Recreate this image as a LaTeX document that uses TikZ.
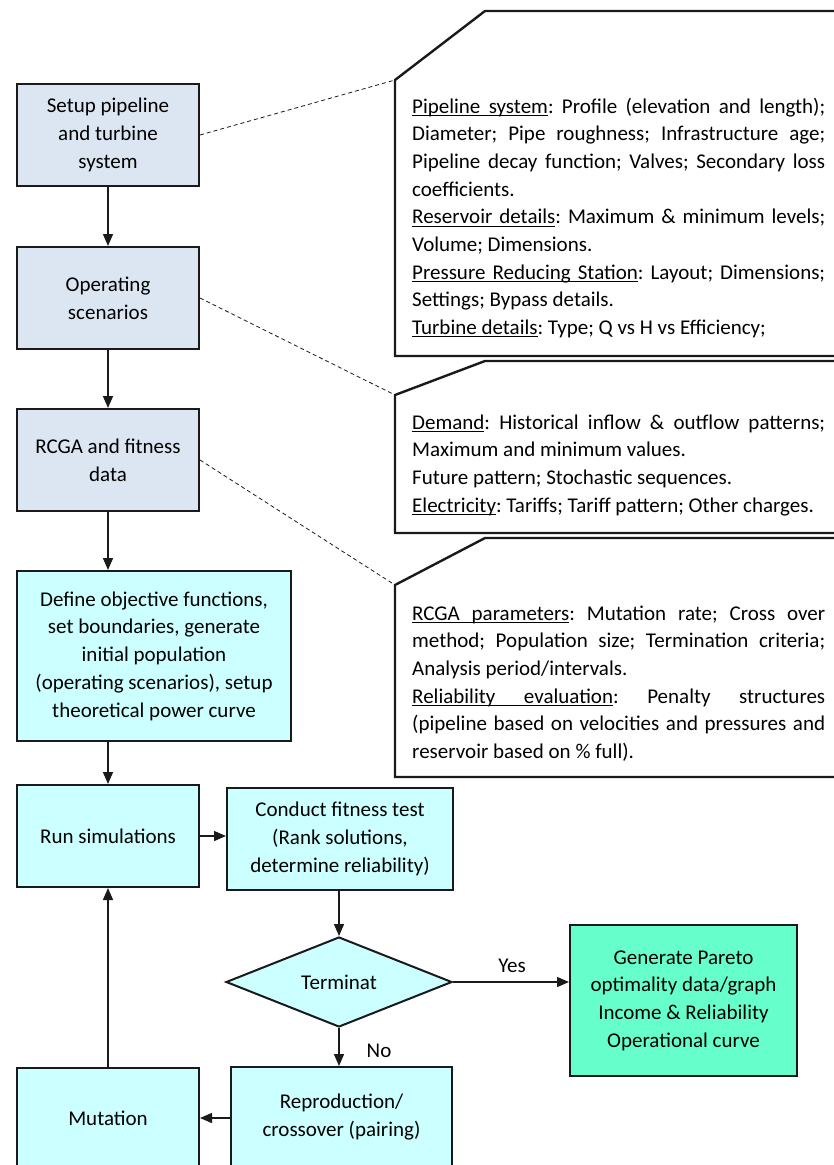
\documentclass[tikz,border=0pt]{standalone}
\usepackage{fontspec}
\setmainfont{Carlito}
\usetikzlibrary{shapes.geometric,arrows.meta}
\definecolor{boxblue}{HTML}{DCE6F2}
\definecolor{boxcyan}{HTML}{CCFFFF}
\definecolor{boxgreen}{HTML}{66FFCC}
\definecolor{edge}{HTML}{1A1A1A}
\hyphenpenalty=10000
\exhyphenpenalty=10000
\frenchspacing
\newcommand{\txtfont}{\fontsize{21}{27.7}\selectfont}
\newcommand{\notesetup}{\tolerance=10000 \pretolerance=-1 \parindent=0pt \frenchspacing}
\newcommand{\ulsp}{\leaders\vrule height -1.7pt depth 2.8pt\hskip\fontdimen2\font plus\fontdimen3\font minus\fontdimen4\font\relax}
\newcommand{\uln}[1]{\leavevmode\setbox0\hbox{#1}\rlap{\vrule height -1.7pt depth 2.8pt width \wd0}\box0}
\tikzset{
  flowbox/.style={draw=edge, line width=2pt, align=center, inner sep=2pt, font=\txtfont},
  bluebox/.style={flowbox, fill=boxblue, minimum width=182pt, minimum height=102pt},
  cyanbox/.style={flowbox, fill=boxcyan},
  arr/.style={-{Triangle[length=12pt,width=10pt]}, line width=1.4pt, draw=edge},
  leader/.style={dashed, dash pattern=on 4pt off 3pt, line width=0.8pt, draw=edge},
  callout/.style={line width=2.4pt, draw=edge, fill=white},
  note/.style={anchor=base west, inner sep=0pt, text width=413pt, align=justify, font=\txtfont},
  lbl/.style={font=\txtfont, inner sep=0pt}
}
\begin{document}
\begin{tikzpicture}[x=1pt,y=-1pt]
\useasboundingbox (0,0) rectangle (834,1165);
\fill[white] (0,0) rectangle (834,1165);
\clip (0,0) rectangle (834,1165);

% callout outlines
\coordinate (k1) at (395,80);
\coordinate (k2) at (395,395);
\coordinate (k3) at (395,585);
\draw[callout] (395,356) -- (k1) -- (485,11) -- (870,11) -- (870,356) -- cycle;
\draw[callout] (395,533) -- (k2) -- (485,361) -- (870,361) -- (870,533) -- cycle;
\draw[callout] (395,777) -- (k3) -- (485,538) -- (870,538) -- (870,777) -- cycle;

% callout texts
\node[note] (n1) at (412,113) {\notesetup\uln{Pipeline}\ulsp\uln{system}: Profile (elevation and length);\linebreak
Diameter; Pipe roughness; Infrastructure age;\linebreak
Pipeline decay function; Valves; Secondary loss\linebreak
coefficients.\par
\uln{Reservoir}\ulsp\uln{details}: Maximum \& minimum levels;\linebreak
Volume; Dimensions.\par
\uln{Pressure}\ulsp\uln{Reducing}\ulsp\uln{Station}: Layout; Dimensions;\linebreak
Settings; Bypass details.\par
\uln{Turbine}\ulsp\uln{details}: Type; Q vs H vs Efficiency;};

\node[note] (n2) at (412,429) {\notesetup\uln{Demand}: Historical inflow \& outflow patterns;\linebreak
Maximum and minimum values.\par
Future pattern; Stochastic sequences.\par
\uln{Electricity}: Tariffs; Tariff pattern; Other charges.};

\node[note] (n3) at (412,620) {\notesetup\uln{RCGA}\ulsp\uln{parameters}: Mutation rate; Cross over\linebreak
method; Population size; Termination criteria;\linebreak
Analysis period/intervals.\par
\uln{Reliability}\ulsp\uln{evaluation}: Penalty structures\linebreak
(pipeline based on velocities and pressures and\linebreak
reservoir based on \% full).};

% flow boxes
\node[bluebox] (setup) at (108,135) {Setup pipeline\\and turbine\\system};
\node[bluebox] (oper) at (108,298) {Operating\\scenarios};
\node[bluebox] (rcga) at (108,460) {RCGA and fitness\\data};
\node[cyanbox, minimum width=274pt, minimum height=170pt] (define) at (154,656)
  {Define objective functions,\\set boundaries, generate\\initial population\\(operating scenarios), setup\\theoretical power curve};
\node[cyanbox, minimum width=182pt, minimum height=102pt] (runsim) at (108,836) {Run simulations};
\node[cyanbox, minimum width=226pt, minimum height=102pt] (conduct) at (340,839)
  {Conduct fitness test\\(Rank solutions,\\determine reliability)};
\node[cyanbox, diamond, aspect=2.5, minimum width=226pt, minimum height=90pt, inner sep=0pt] (term) at (339,982) {Terminat};
\node[flowbox, fill=boxgreen, minimum width=227pt, minimum height=151pt] (pareto) at (683.5,1000.5)
  {Generate Pareto\\optimality data/graph\\Income \& Reliability\\Operational curve};
\node[cyanbox, minimum width=182pt, minimum height=100pt] (mutation) at (108,1118) {Mutation};
\node[cyanbox, minimum width=221pt, minimum height=100pt] (repro) at (341.5,1117)
  {Reproduction/\\crossover (pairing)};

% leaders
\draw[leader] (setup.east) -- (k1);
\draw[leader] (oper.east) -- (k2);
\draw[leader] (rcga.east) -- (k3);

% arrows
\draw[arr] (setup.south) -- (oper.north);
\draw[arr] (oper.south) -- (rcga.north);
\draw[arr] (rcga.south) -- (rcga.south |- define.north);
\draw[arr] (define.south -| runsim.north) -- (runsim.north);
\draw[arr] (runsim.east) -- (runsim.east -| conduct.west);
\draw[arr] (conduct.south -| term.north) -- (term.north);
\draw[arr] (term.east) -- (term.east -| pareto.west);
\draw[arr] (term.south) -- (term.south |- repro.north);
\draw[arr] (repro.west |- mutation.east) -- (mutation.east);
\draw[arr] (mutation.north) -- (runsim.south);

\node[lbl] (yes) at (512,966) {Yes};
\node[lbl] (no) at (379,1051) {No};
\end{tikzpicture}
\end{document}
